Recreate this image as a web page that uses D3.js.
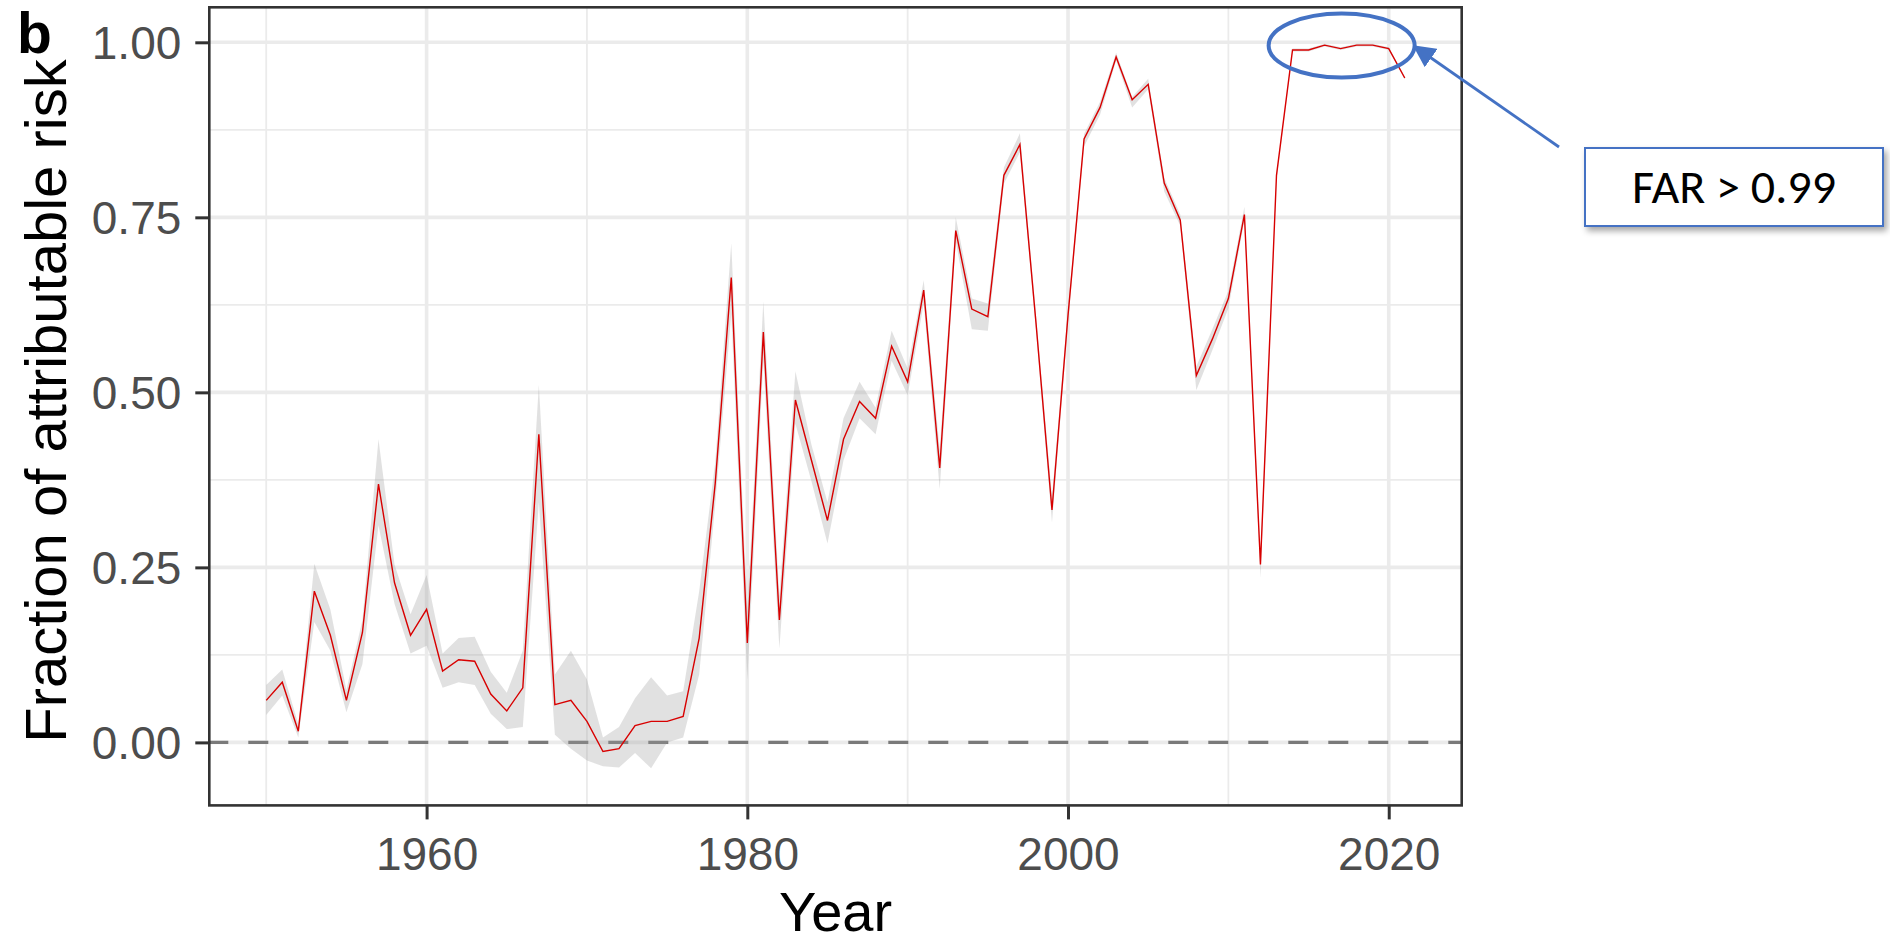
<!DOCTYPE html>
<html>
<head>
<meta charset="utf-8">
<script src="https://cdn.jsdelivr.net/npm/d3@7"></script>
<style>
  html, body { margin: 0; padding: 0; background: #fff; }
  svg { display: block; }
</style>
</head>
<body>
<svg id="chart" width="1890" height="942"></svg>
<script>
// Fraction of attributable risk (FAR) per year, with its uncertainty band
const years = d3.range(1950, 2022);
const farValues = [
  0.060, 0.086, 0.016, 0.216, 0.153, 0.060, 0.157, 0.369, 0.228, 0.153,
  0.190, 0.102, 0.118, 0.116, 0.069, 0.045, 0.078, 0.440, 0.054, 0.060,
  0.030, -0.013, -0.009, 0.024, 0.030, 0.030, 0.037, 0.149, 0.370, 0.664,
  0.142, 0.586, 0.175, 0.489, 0.403, 0.317, 0.433, 0.487, 0.463, 0.566,
  0.515, 0.646, 0.392, 0.731, 0.619, 0.608, 0.810, 0.854, 0.600, 0.332,
  0.610, 0.862, 0.907, 0.979, 0.918, 0.940, 0.799, 0.746, 0.524, 0.576,
  0.634, 0.754, 0.254, 0.810, 0.989, 0.989, 0.996, 0.991, 0.996, 0.996,
  0.991, 0.949
];
const farLower = [
  0.039, 0.067, 0.007, 0.172, 0.131, 0.043, 0.112, 0.310, 0.198, 0.127,
  0.138, 0.078, 0.086, 0.082, 0.041, 0.019, 0.022, 0.343, 0.011, -0.009,
  -0.026, -0.034, -0.036, -0.015, -0.037, 0.000, 0.007, 0.097, 0.340, 0.612,
  0.090, 0.545, 0.134, 0.455, 0.373, 0.284, 0.403, 0.463, 0.440, 0.545,
  0.496, 0.627, 0.362, 0.716, 0.590, 0.588, 0.798, 0.843, 0.590, 0.314,
  0.600, 0.851, 0.897, 0.974, 0.907, 0.933, 0.787, 0.738, 0.503, 0.560,
  0.620, 0.746, 0.235, 0.803, 0.987, 0.987, 0.994, 0.989, 0.994, 0.994,
  0.989, 0.947
];
const farUpper = [
  0.082, 0.104, 0.026, 0.255, 0.190, 0.075, 0.175, 0.433, 0.254, 0.183,
  0.239, 0.127, 0.149, 0.151, 0.101, 0.071, 0.131, 0.511, 0.097, 0.131,
  0.090, 0.007, 0.022, 0.063, 0.093, 0.067, 0.073, 0.216, 0.400, 0.713,
  0.187, 0.630, 0.209, 0.530, 0.425, 0.343, 0.463, 0.515, 0.478, 0.588,
  0.534, 0.660, 0.418, 0.750, 0.634, 0.627, 0.821, 0.870, 0.610, 0.351,
  0.620, 0.869, 0.915, 0.985, 0.922, 0.948, 0.806, 0.754, 0.537, 0.590,
  0.645, 0.765, 0.268, 0.812, 0.991, 0.991, 0.998, 0.993, 0.998, 0.998,
  0.993, 0.951
];
const xTicks = [1960, 1980, 2000, 2020];
const xMinorTicks = [1950, 1970, 1990, 2010];
const yTicks = [0, 0.25, 0.5, 0.75, 1.0];
const yTickLabels = ["0.00", "0.25", "0.50", "0.75", "1.00"];
const yMinorTicks = [0.125, 0.375, 0.625, 0.875];
const yLimits = [-0.09, 1.05];
const annotationText = "FAR > 0.99";

const rows = years.map((yr, i) => ({ year: yr, far: farValues[i], lo: farLower[i], hi: farUpper[i] }));

const svg = d3.select("#chart");
const panel = { left: 209.3, right: 1461.7, top: 7.3, bottom: 805.4 };

const span = d3.extent(years);
const pad = (span[1] - span[0]) * 0.05;
const x = d3.scaleLinear().domain([span[0] - pad, span[1] + pad]).range([panel.left, panel.right]);
const y = d3.scaleLinear().domain(yLimits).range([panel.bottom, panel.top]);

const font = "'Liberation Sans', Arial, Helvetica, sans-serif";
const gridColor = "#ebebeb";

// panel background
svg.append("rect")
  .attr("x", panel.left).attr("y", panel.top)
  .attr("width", panel.right - panel.left).attr("height", panel.bottom - panel.top)
  .attr("fill", "#fff");

const grid = svg.append("g");
// minor grid
grid.selectAll("line.xminor").data(xMinorTicks).join("line")
  .attr("x1", d => x(d)).attr("x2", d => x(d))
  .attr("y1", panel.top).attr("y2", panel.bottom)
  .attr("stroke", gridColor).attr("stroke-width", 1.8);
grid.selectAll("line.yminor").data(yMinorTicks).join("line")
  .attr("y1", d => y(d)).attr("y2", d => y(d))
  .attr("x1", panel.left).attr("x2", panel.right)
  .attr("stroke", gridColor).attr("stroke-width", 1.8);
// major grid
grid.selectAll("line.xmajor").data(xTicks).join("line")
  .attr("x1", d => x(d)).attr("x2", d => x(d))
  .attr("y1", panel.top).attr("y2", panel.bottom)
  .attr("stroke", gridColor).attr("stroke-width", 3.6);
grid.selectAll("line.ymajor").data(yTicks).join("line")
  .attr("y1", d => y(d)).attr("y2", d => y(d))
  .attr("x1", panel.left).attr("x2", panel.right)
  .attr("stroke", gridColor).attr("stroke-width", 3.6);

// zero reference line
svg.append("line")
  .attr("x1", panel.left - 1).attr("x2", panel.right)
  .attr("y1", y(0)).attr("y2", y(0))
  .attr("stroke", "#7a7a7a").attr("stroke-width", 3.4)
  .attr("stroke-dasharray", "20,20");

// uncertainty band
const band = d3.area()
  .x(d => x(d.year))
  .y0(d => y(d.lo))
  .y1(d => y(d.hi));
svg.append("path").datum(rows)
  .attr("d", band)
  .attr("fill", "#9a9a9a").attr("fill-opacity", 0.3);

// FAR line
const line = d3.line().x(d => x(d.year)).y(d => y(d.far));
svg.append("path").datum(rows)
  .attr("d", line)
  .attr("fill", "none")
  .attr("stroke", "#d80000").attr("stroke-width", 1.4)
  .attr("stroke-linejoin", "miter");

// panel border
svg.append("rect")
  .attr("x", panel.left).attr("y", panel.top)
  .attr("width", panel.right - panel.left).attr("height", panel.bottom - panel.top)
  .attr("fill", "none").attr("stroke", "#333").attr("stroke-width", 2.6);

// x axis
const xAxis = d3.axisBottom(x).tickValues(xTicks).tickFormat(d3.format("d"))
  .tickSize(14).tickPadding(8);
const gx = svg.append("g").attr("transform", `translate(0,${panel.bottom})`).call(xAxis);
gx.select(".domain").remove();
gx.selectAll(".tick line").attr("stroke", "#333").attr("stroke-width", 3);
gx.selectAll(".tick text")
  .attr("fill", "#4d4d4d").attr("font-family", font).attr("font-size", 46)
  .attr("dy", null).attr("y", 65);

// y axis
const yAxis = d3.axisLeft(y).tickValues(yTicks)
  .tickFormat((d, i) => yTickLabels[i]).tickSize(14).tickPadding(14);
const gy = svg.append("g").attr("transform", `translate(${panel.left},0)`).call(yAxis);
gy.select(".domain").remove();
gy.selectAll(".tick line").attr("stroke", "#333").attr("stroke-width", 3);
gy.selectAll(".tick text")
  .attr("fill", "#4d4d4d").attr("font-family", font).attr("font-size", 46)
  .attr("dy", "0.36em").attr("x", -28);

// axis titles
svg.append("text")
  .attr("x", (panel.left + panel.right) / 2).attr("y", 931)
  .attr("text-anchor", "middle")
  .attr("font-family", font).attr("font-size", 56).attr("fill", "#000")
  .text("Year");
svg.append("text")
  .attr("transform", `translate(66,401) rotate(-90)`)
  .attr("text-anchor", "middle")
  .attr("font-family", font).attr("font-size", 58).attr("fill", "#000")
  .text("Fraction of attributable risk");

// panel tag
svg.append("text")
  .attr("x", 17).attr("y", 53)
  .attr("font-family", font).attr("font-weight", "bold").attr("font-size", 57).attr("fill", "#000")
  .text("b");

// callout: ellipse around the recent plateau, arrow and label box
const accent = "#4472c4";
const plateau = rows.filter(d => d.year >= 2014 && d.year <= 2020);
const cx = (x(plateau[0].year) + x(plateau[plateau.length - 1].year)) / 2 + 1;
const cy = y(d3.mean(plateau, d => d.far)) - 2;
svg.append("ellipse")
  .attr("cx", cx).attr("cy", cy).attr("rx", 73).attr("ry", 32)
  .attr("fill", "none").attr("stroke", accent).attr("stroke-width", 4);

const defs = svg.append("defs");
defs.append("marker")
  .attr("id", "head").attr("viewBox", "0 0 10 10")
  .attr("refX", 9).attr("refY", 5)
  .attr("markerWidth", 8).attr("markerHeight", 8)
  .attr("markerUnits", "strokeWidth")
  .attr("orient", "auto")
  .append("path").attr("d", "M0,0 L10,5 L0,10 z").attr("fill", accent);
const shadow = defs.append("filter").attr("id", "shadow")
  .attr("x", "-10%").attr("y", "-20%").attr("width", "130%").attr("height", "160%");
shadow.append("feDropShadow")
  .attr("dx", 3).attr("dy", 4).attr("stdDeviation", 3)
  .attr("flood-color", "#000").attr("flood-opacity", 0.35);

svg.append("line")
  .attr("x1", 1559).attr("y1", 147)
  .attr("x2", cx + 73).attr("y2", cy + 1)
  .attr("stroke", accent).attr("stroke-width", 2.8)
  .attr("marker-end", "url(#head)");

svg.append("rect")
  .attr("x", 1585).attr("y", 148).attr("width", 298).attr("height", 78)
  .attr("fill", "#fff").attr("stroke", accent).attr("stroke-width", 2)
  .attr("filter", "url(#shadow)");
svg.append("text")
  .attr("x", 1734).attr("y", 203)
  .attr("text-anchor", "middle")
  .attr("font-family", "Carlito, Lato, 'Open Sans', sans-serif").attr("font-size", 48).attr("fill", "#000")
  .text(annotationText);
</script>
</body>
</html>
